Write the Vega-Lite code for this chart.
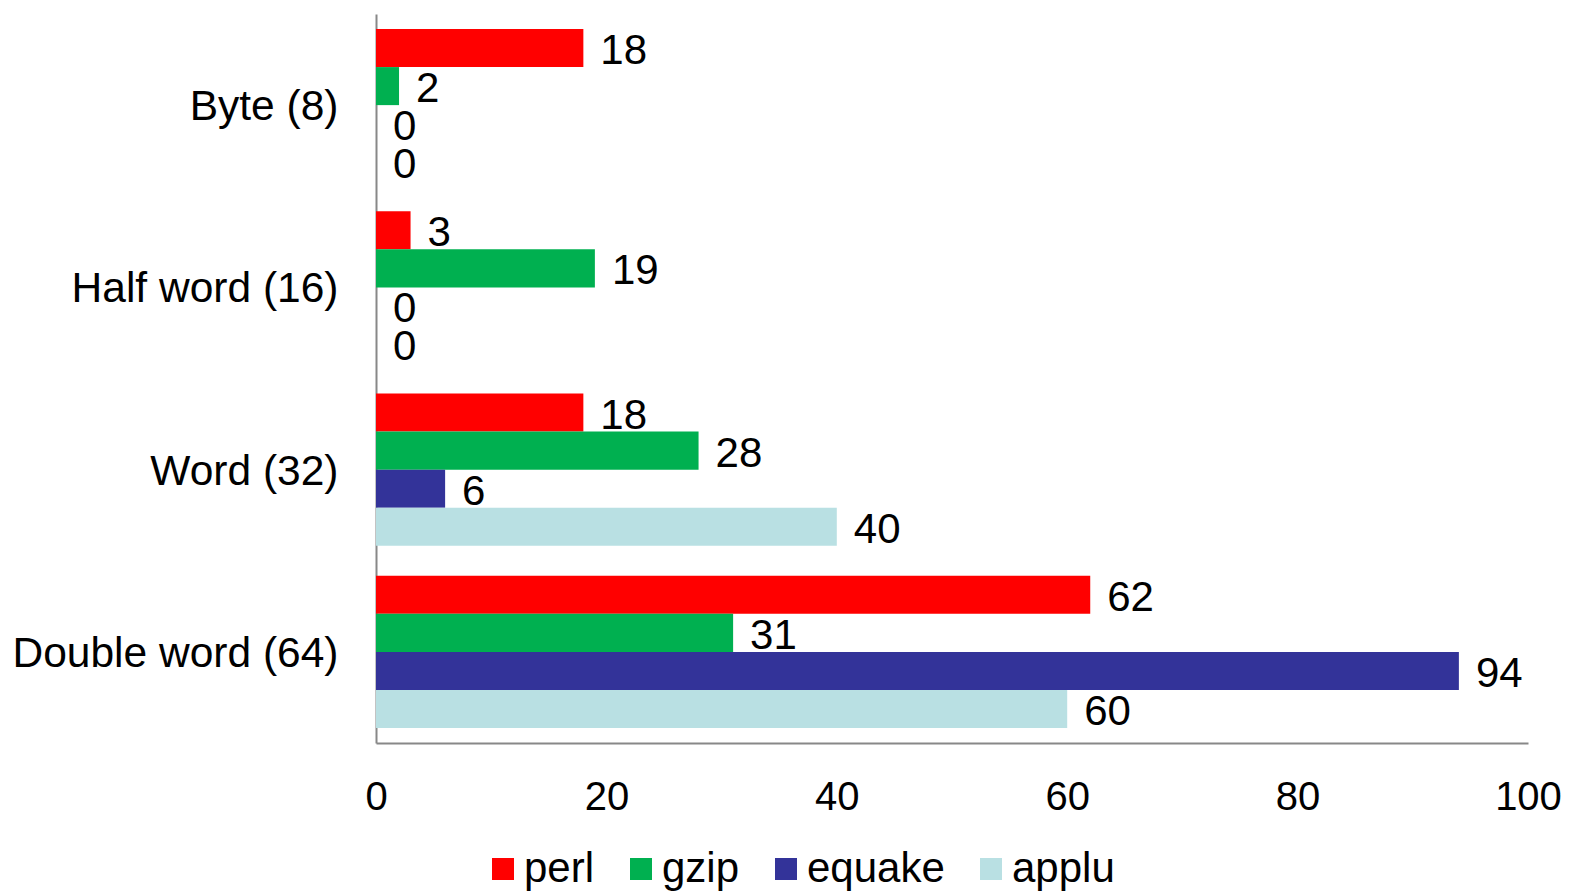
{
  "$schema": "https://vega.github.io/schema/vega-lite/v6.json",
  "width": 1152,
  "height": 729,
  "autosize": "none",
  "padding": {"left": 376, "top": 14, "right": 42, "bottom": 148},
  "background": "white",
  "config": {
    "font": "Liberation Sans",
    "view": {"stroke": null},
    "axis": {"labelFont": "Liberation Sans", "labelColor": "black", "domainColor": "#888888", "domainWidth": 2, "ticks": false, "grid": false, "title": null}
  },
  "data": {
    "values": [
      {"cat": "Byte (8)", "bench": "perl", "v": 18},
      {"cat": "Byte (8)", "bench": "gzip", "v": 2},
      {"cat": "Byte (8)", "bench": "equake", "v": 0},
      {"cat": "Byte (8)", "bench": "applu", "v": 0},
      {"cat": "Half word (16)", "bench": "perl", "v": 3},
      {"cat": "Half word (16)", "bench": "gzip", "v": 19},
      {"cat": "Half word (16)", "bench": "equake", "v": 0},
      {"cat": "Half word (16)", "bench": "applu", "v": 0},
      {"cat": "Word (32)", "bench": "perl", "v": 18},
      {"cat": "Word (32)", "bench": "gzip", "v": 28},
      {"cat": "Word (32)", "bench": "equake", "v": 6},
      {"cat": "Word (32)", "bench": "applu", "v": 40},
      {"cat": "Double word (64)", "bench": "perl", "v": 62},
      {"cat": "Double word (64)", "bench": "gzip", "v": 31},
      {"cat": "Double word (64)", "bench": "equake", "v": 94},
      {"cat": "Double word (64)", "bench": "applu", "v": 60}
    ]
  },
  "encoding": {
    "y": {
      "field": "cat", "type": "nominal",
      "sort": ["Byte (8)", "Half word (16)", "Word (32)", "Double word (64)"],
      "scale": {"paddingInner": 0.165, "paddingOuter": 0.0825},
      "axis": {"labelFontSize": 42.5, "labelPadding": 38, "labelLimit": 400, "labelOffset": 2}
    },
    "yOffset": {
      "field": "bench", "type": "nominal",
      "sort": ["perl", "gzip", "equake", "applu"],
      "scale": {"paddingInner": 0, "paddingOuter": 0}
    },
    "x": {
      "field": "v", "type": "quantitative",
      "scale": {"domain": [0, 100], "nice": false},
      "axis": {"values": [0, 20, 40, 60, 80, 100], "labelFontSize": 40, "labelPadding": 34, "labelFlush": false}
    }
  },
  "layer": [
    {
      "mark": {"type": "bar"},
      "encoding": {
        "color": {
          "field": "bench", "type": "nominal",
          "sort": ["perl", "gzip", "equake", "applu"],
          "scale": {"domain": ["perl", "gzip", "equake", "applu"], "range": ["#FF0000", "#00B050", "#333399", "#B9E0E3"]},
          "legend": {
            "title": null, "orient": "none", "direction": "horizontal",
            "legendX": 106, "legendY": 834,
            "symbolType": "square", "symbolSize": 484, "symbolStrokeWidth": 0, "symbolOpacity": 1,
            "labelFontSize": 42, "labelColor": "black", "labelFont": "Liberation Sans",
            "labelOffset": 0, "columnPadding": 25, "symbolLimit": 0
          }
        }
      }
    },
    {
      "mark": {"type": "text", "align": "left", "baseline": "middle", "dx": 17, "dy": 3, "fontSize": 42, "color": "black"},
      "encoding": {"text": {"field": "v", "type": "quantitative"}}
    }
  ]
}
